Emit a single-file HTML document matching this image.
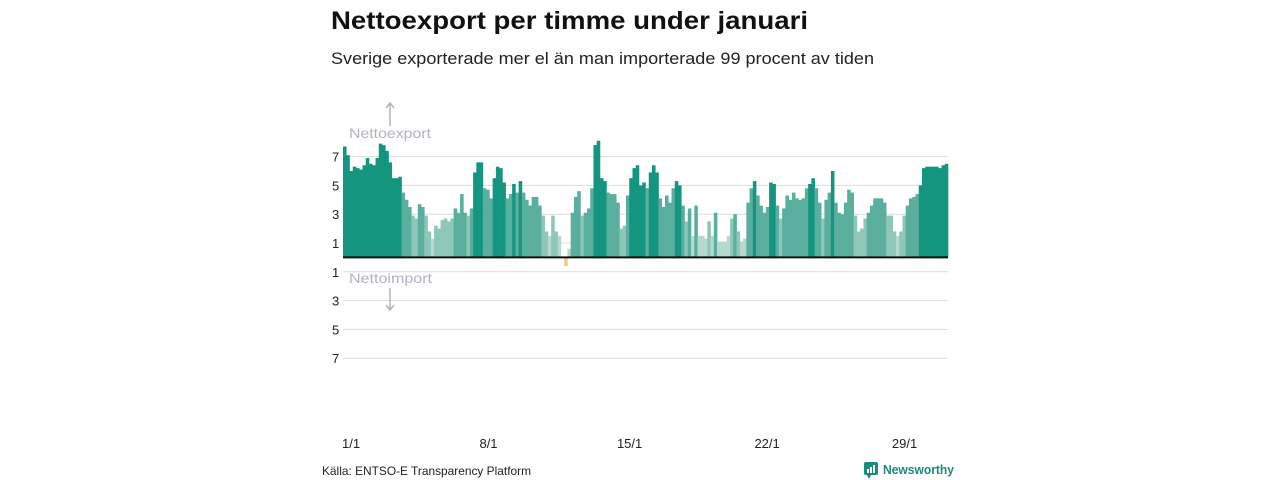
<!DOCTYPE html>
<html><head><meta charset="utf-8">
<style>
body{margin:0;background:#fff;font-family:"Liberation Sans",sans-serif;}
#wrap{position:relative;width:1280px;height:480px;overflow:hidden;}
</style></head>
<body>
<div id="wrap">
<svg id="chart" width="1280" height="480">
<text x="331" y="29" font-size="25" font-weight="bold" fill="#111" textLength="477" lengthAdjust="spacingAndGlyphs">Nettoexport per timme under januari</text>
<text x="331" y="64" font-size="17" fill="#222" textLength="543" lengthAdjust="spacingAndGlyphs">Sverige exporterade mer el än man importerade 99 procent av tiden</text>
<g id="grid"></g>
<g id="bars"></g>
<line x1="343" y1="257.4" x2="948" y2="257.4" stroke="#111" stroke-width="2"/>
<g id="yticks"></g>
<g id="xticks"></g>
<text x="349" y="138" font-size="14" fill="#b3b3bf" textLength="82" lengthAdjust="spacingAndGlyphs">Nettoexport</text>
<path d="M390 126 V104 M386 108 L390 103 L394 108" stroke="#b3b3bf" stroke-width="1.5" fill="none"/>
<text x="349" y="283" font-size="14" fill="#b3b3bf" textLength="83" lengthAdjust="spacingAndGlyphs">Nettoimport</text>
<path d="M390 288 V309 M386 305 L390 310 L394 305" stroke="#b3b3bf" stroke-width="1.5" fill="none"/>
<text x="322" y="475" font-size="12" fill="#222" textLength="209" lengthAdjust="spacingAndGlyphs">Källa: ENTSO-E Transparency Platform</text>
<g>
<rect x="864" y="462" width="14" height="13" rx="2" fill="#1a8a7a"/>
<path d="M867 475 L869 479 L871 475 Z" fill="#1a8a7a"/>
<rect x="867" y="469" width="2" height="4" fill="#fff"/><rect x="870" y="467" width="2" height="6" fill="#fff"/><rect x="873" y="465" width="2" height="8" fill="#fff"/>
<text x="883" y="474" font-size="13" font-weight="bold" fill="#1a8a7a" textLength="71" lengthAdjust="spacingAndGlyphs">Newsworthy</text>
</g>
</svg>
</div>
<script>
const values = [7.7,7.1,6.0,6.3,6.2,6.1,6.4,6.9,6.5,6.4,6.9,7.9,7.8,7.4,6.6,5.5,5.5,5.6,4.5,4.0,3.5,2.9,2.7,3.7,3.5,2.9,1.8,1.3,2.2,2.0,2.6,2.7,2.5,2.7,3.4,3.1,4.4,3.1,2.9,3.4,5.9,6.6,6.6,4.8,4.7,4.1,5.5,6.3,
6.2,5.2,4.1,4.4,5.1,4.5,5.3,4.5,4.0,3.6,4.2,4.2,3.6,2.9,1.8,1.5,2.9,1.8,1.5,0,-0.6,0.6,3.1,4.2,4.6,2.9,3.1,3.4,4.8,7.8,8.1,5.5,5.3,4.5,4.4,4.4,3.8,2.0,2.2,4.3,5.5,6.2,6.4,5.0,5.2,4.8,5.9,
6.4,5.9,4.1,3.5,4.3,3.8,4.8,5.3,5.0,3.6,2.5,3.4,1.5,3.6,1.5,1.5,1.3,2.5,1.5,3.1,1.1,1.1,1.1,1.5,2.7,3.0,1.8,1.1,1.3,3.8,4.8,5.3,4.3,3.6,3.1,3.5,5.2,5.1,3.6,2.7,3.4,4.3,4.0,4.5,4.1,4.0,4.1,4.8,
5.1,5.5,4.8,3.8,2.7,4.0,4.5,6.0,3.8,3.1,3.0,3.8,4.7,4.5,2.9,1.8,2.0,2.7,3.1,3.6,4.1,4.1,4.1,3.8,2.9,2.9,1.8,1.5,1.8,2.9,3.6,4.1,4.2,4.4,5.0,6.2,6.3,6.3,6.3,6.3,6.2,6.4,6.5];
const yTicks = [7,5,3,1,-1,-3,-5,-7];
const xLabels = ["1/1","8/1","15/1","22/1","29/1"];
const xLabelDays = [0,7,14,21,28];
const NS="http://www.w3.org/2000/svg";
const x0=343, x1=948, zeroY=257.4, unit=14.4, dayW=19.64;
const binW=(x1-x0)/values.length;
const yS=v=>zeroY-v*unit;
const xS=i=>x0+i*binW;
const grid=document.getElementById('grid'), yt=document.getElementById('yticks');
yTicks.forEach(t=>{
  const l=document.createElementNS(NS,'line');
  l.setAttribute('x1',x0);l.setAttribute('x2',x1);l.setAttribute('y1',yS(t));l.setAttribute('y2',yS(t));
  l.setAttribute('stroke','#dcdcdc');l.setAttribute('stroke-width','1');
  
  
  grid.appendChild(l);
  const tx=document.createElementNS(NS,'text');
  tx.setAttribute('x',332);tx.setAttribute('y',yS(t)+5);tx.setAttribute('font-size','13');tx.setAttribute('fill','#222');
  tx.textContent=Math.abs(t);
  
  
  yt.appendChild(tx);
});
const bars=document.getElementById('bars');
values.forEach((v,i)=>{
  const r=document.createElementNS(NS,'rect');
  const c = v<0?'#f5c98a': v>=5?'#14957f': v>=3?'#5aae9e': v>=1.8?'#8ec6b9':'#b5d9cf';
  r.setAttribute('x',xS(i));r.setAttribute('width',binW+0.3);
  r.setAttribute('y',Math.min(yS(v),zeroY));r.setAttribute('height',Math.abs(v*unit));
  r.setAttribute('fill',c);
  
  
  bars.appendChild(r);
});
const xt=document.getElementById('xticks');
xLabels.forEach((s,k)=>{
  const tx=document.createElementNS(NS,'text');
  tx.setAttribute('x',x0-1+xLabelDays[k]*dayW);tx.setAttribute('y',448);tx.setAttribute('font-size','13');tx.setAttribute('fill','#222');
  tx.textContent=s;
  
  
  xt.appendChild(tx);
});
</script>
</body></html>
